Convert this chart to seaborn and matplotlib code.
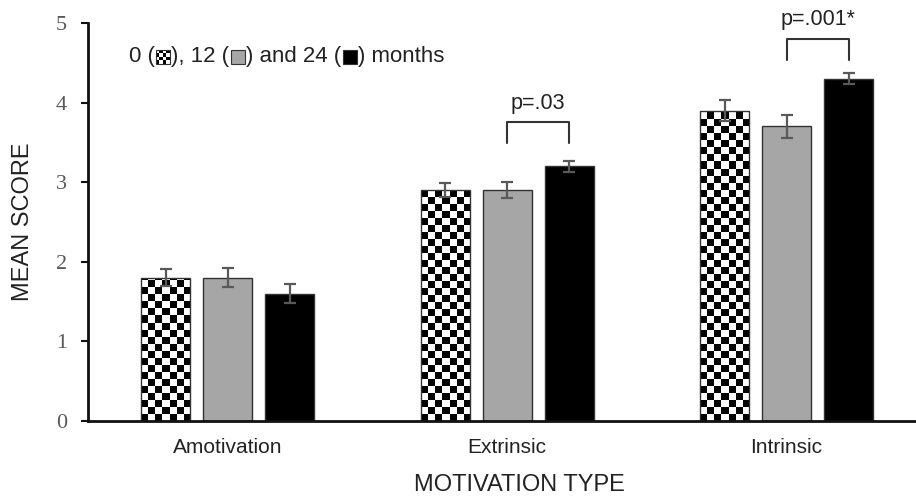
import numpy as np
import pandas as pd
import matplotlib
matplotlib.use("Agg")
import matplotlib.pyplot as plt
import seaborn as sns
from matplotlib.patches import Rectangle
from matplotlib.offsetbox import TextArea, DrawingArea, HPacker, AnchoredOffsetbox

# data
categories = ["Amotivation", "Extrinsic", "Intrinsic"]
time_points = ["0", "12", "24"]
mean_0 = [1.8, 2.9, 3.9]
mean_12 = [1.8, 2.9, 3.7]
mean_24 = [1.6, 3.2, 4.3]
se_0 = [0.11, 0.09, 0.13]
se_12 = [0.12, 0.10, 0.14]
se_24 = [0.12, 0.07, 0.07]

# significance brackets (category, bracket height, label)
bracket_cats = ["Extrinsic", "Intrinsic"]
bracket_heights = [3.75, 4.80]
bracket_labels = ["p=.03", "p=.001*"]

SANS = "Liberation Sans"
SERIF = "Liberation Serif"
TEXT_COL = "#222222"
TICK_COL = "#595959"
GREY = "#a6a6a6"

df = pd.DataFrame({
    "motivation": categories * 3,
    "time": [t for t in time_points for _ in categories],
    "score": mean_0 + mean_12 + mean_24,
    "se": se_0 + se_12 + se_24,
})

sns.set_theme(style="white")
plt.rcParams["font.family"] = [SANS, "DejaVu Sans"]

fig = plt.figure(figsize=(9.16, 4.96), dpi=100)
ax = fig.add_axes([88 / 916, 1 - 421 / 496, 1 - 88 / 916, (421 - 23) / 496])

sns.barplot(data=df, x="motivation", y="score", hue="time", order=categories,
            hue_order=time_points, palette=["white", GREY, "black"],
            errorbar=None, width=0.666, gap=0.21, edgecolor="#333333",
            linewidth=1.0, legend=False, ax=ax)

ax.set_xlim(-0.5, 2.463)
ax.set_ylim(0, 5)

# error bars at bar centres
for cont, t in zip(ax.containers, time_points):
    sub = df[df["time"] == t].set_index("motivation").loc[categories]
    xs = [p.get_x() + p.get_width() / 2 for p in cont.patches]
    ax.errorbar(xs, sub["score"].values, yerr=sub["se"].values, fmt="none",
                ecolor=TICK_COL, elinewidth=1.6, capsize=4, capthick=1.6, zorder=3)

# checkerboard fill for the baseline bars
fig.canvas.draw()
px_x = ax.transData.transform([(1, 0)])[0][0] - ax.transData.transform([(0, 0)])[0][0]
px_y = ax.transData.transform([(0, 1)])[0][1] - ax.transData.transform([(0, 0)])[0][1]
for p in ax.containers[0].patches:
    x0, w, h = p.get_x(), p.get_width(), p.get_height()
    nx = 7
    cell_w = w / nx
    cell_h = cell_w * px_x / px_y
    ny = int(np.ceil(h / cell_h))
    board = np.indices((ny, nx)).sum(axis=0) % 2
    im = ax.imshow(board, cmap="gray", extent=[x0, x0 + w, 0, ny * cell_h],
                   origin="lower", aspect="auto", interpolation="nearest",
                   zorder=0.95)
    im.set_clip_path(p)
    p.set_facecolor("none")
    p.set_zorder(1.5)

ax.set_xlim(-0.5, 2.463)
ax.set_ylim(0, 5)
ax.set_aspect("auto")

# brackets
for cat, hgt, lab in zip(bracket_cats, bracket_heights, bracket_labels):
    i = categories.index(cat)
    xa = ax.containers[1].patches[i]
    xb = ax.containers[2].patches[i]
    x1 = xa.get_x() + xa.get_width() / 2
    x2 = xb.get_x() + xb.get_width() / 2
    ax.plot([x1, x1, x2, x2], [hgt - 0.26, hgt, hgt, hgt - 0.26],
            color="#333333", lw=1.5, clip_on=False)
    ax.text((x1 + x2) / 2, hgt + 0.24, lab, ha="center", va="center",
            fontsize=15.5, color=TEXT_COL, family=SANS, clip_on=False)

# inline legend text with little swatches
SW = 10

def swatch(kind):
    da = DrawingArea(SW, SW, 0, 0)
    if kind == "checker":
        da.add_artist(Rectangle((0, 0), SW, SW, fc="white", ec="none"))
        n = 4
        s = SW / n
        for r in range(n):
            for c in range(n):
                if (r + c) % 2 == 0:
                    da.add_artist(Rectangle((c * s, r * s), s, s, fc="black", ec="none"))
        da.add_artist(Rectangle((0, 0), SW, SW, fc="none", ec="#333333", lw=0.8))
    else:
        da.add_artist(Rectangle((0, 0), SW, SW, fc=kind, ec="#333333", lw=0.8))
    return da

tp = dict(fontsize=16, color=TEXT_COL, family=SANS)
parts = [TextArea("0 (", textprops=tp), swatch("checker"),
         TextArea("), 12 (", textprops=tp), swatch(GREY),
         TextArea(") and 24 (", textprops=tp), swatch("black"),
         TextArea(") months", textprops=tp)]
box = HPacker(children=parts, align="center", pad=0, sep=1)
anch = AnchoredOffsetbox(loc="center left", child=box, pad=0, frameon=False,
                         bbox_to_anchor=(0.049, 0.915), bbox_transform=ax.transAxes,
                         borderpad=0)
ax.add_artist(anch)

# axes styling
for side in ["top", "right"]:
    ax.spines[side].set_visible(False)
for side in ["left", "bottom"]:
    ax.spines[side].set_color("#111111")
    ax.spines[side].set_linewidth(2)

ax.set_yticks([0, 1, 2, 3, 4, 5])
ax.tick_params(axis="y", direction="out", length=5, width=1.5, color="#111111",
               labelsize=16, labelcolor=TICK_COL, pad=10, left=True)
for lbl in ax.get_yticklabels():
    lbl.set_family(SERIF)
ax.tick_params(axis="x", length=0, labelsize=15, labelcolor=TEXT_COL, pad=12)

ax.set_xlabel("MOTIVATION TYPE", fontsize=17, color=TEXT_COL)
ax.set_ylabel("MEAN SCORE", fontsize=17, color=TEXT_COL)
ax.xaxis.set_label_coords(0.521, -0.161)
ax.xaxis.label.set_va("center")
ax.yaxis.set_label_coords(-0.0785, 0.5)
ax.yaxis.label.set_va("center")

fig.savefig("out.png", dpi=100)
